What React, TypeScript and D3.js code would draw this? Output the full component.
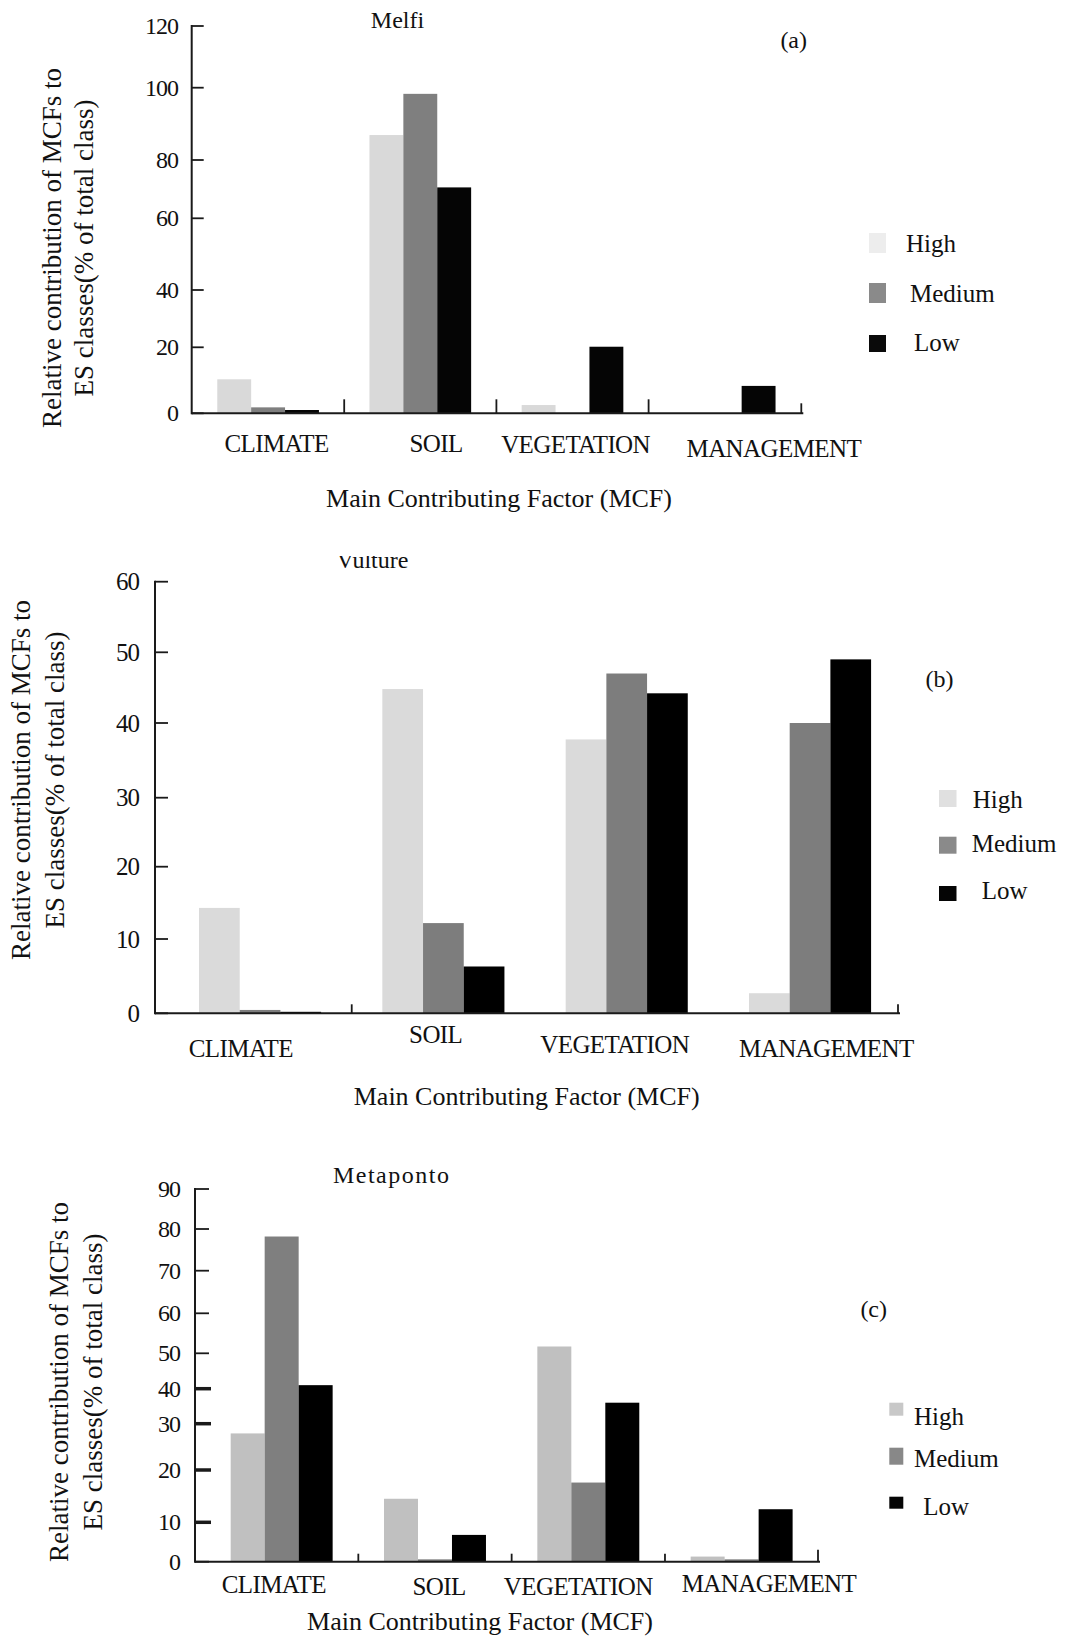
import React from "react";
import * as d3 from "d3";

// ---------- data ----------
const categories = ["CLIMATE", "SOIL", "VEGETATION", "MANAGEMENT"];
const classes = ["High", "Medium", "Low"];

const melfiHigh = [10.3, 86.9, 2.5, 0];
const melfiMedium = [1.8, 98.3, 0, 0];
const melfiLow = [1.0, 70.6, 20.2, 8.3];

const vultureHigh = [14.3, 44.8, 37.8, 2.7];
const vultureMedium = [0.45, 12.2, 47.0, 40.0];
const vultureLow = [0.2, 6.3, 44.2, 49.0];

const metapontoHigh = [27.9, 14.5, 51.7, 1.3];
const metapontoMedium = [78.2, 0.6, 17.6, 0.6];
const metapontoLow = [41.0, 6.8, 36.0, 12.5];

const melfiTicks = [0, 20, 40, 60, 80, 100, 120];
const vultureTicks = [0, 10, 20, 30, 40, 50, 60];
const metapontoTicks = [0, 10, 20, 30, 40, 50, 60, 70, 80, 90];

const yTitleLines = ["Relative contribution of MCFs to", "ES classes(% of total class)"];
const xTitle = "Main Contributing Factor (MCF)";

// ---------- layout ----------
const FONT = "'Liberation Serif', 'Times New Roman', serif";

const panels = [
  {
    id: "a",
    title: "Melfi",
    tag: "(a)",
    values: [melfiHigh, melfiMedium, melfiLow],
    ticks: melfiTicks,
    tickPix: [413.3, 347.3, 290, 218.3, 160, 87.7, 26],
    axisX: 191.7,
    band: [192, 800.8],
    axisEnd: 803.3,
    groupFrac: 0.668,
    dividers: [1, 2, 3],
    dividerLen: 14,
    endTickLen: 10,
    tickLen: 12,
    boldTicks: [] as number[],
    tickLabelX: 178,
    tickFont: 24,
    catDx: [8.4, 15.8, 3.1, 49.1],
    catBase: [451.7, 451.7, 453, 456.7],
    titlePos: [397.5, 28],
    titleSpacing: 0,
    titleClip: null as null | number,
    tagPos: [793.7, 48],
    legendX: 869,
    legendW: 17,
    legendRows: [[233, 20], [283, 20], [335, 17]],
    legendText: [[906, 252], [910, 302], [914, 351]],
    xTitlePos: [499, 507],
    yLabelX: [51.7, 84],
    yLabelY: 248,
    colors: ["#d9d9d9", "#7f7f7f", "#050505"],
    legendColors: ["#ededed", "#8a8a8a", "#0a0a0a"],
  },
  {
    id: "b",
    title: "Vulture",
    tag: "(b)",
    values: [vultureHigh, vultureMedium, vultureLow],
    ticks: vultureTicks,
    tickPix: [1013.3, 939, 866.7, 797.7, 723, 652.3, 581.7],
    axisX: 155,
    band: [168.4, 901.7],
    axisEnd: 900,
    groupFrac: 0.666,
    dividers: [1],
    dividerLen: 9,
    endTickLen: 9,
    tickLen: 13,
    boldTicks: [] as number[],
    tickLabelX: 139,
    tickFont: 25,
    catDx: [-19.2, -7.7, -12, 16.3],
    catBase: [1056.7, 1043, 1053, 1056.7],
    titlePos: [372.5, 568],
    titleSpacing: 0,
    titleClip: 556,
    tagPos: [939.5, 686.7],
    legendX: 939,
    legendW: 17.5,
    legendRows: [[790, 17], [836.7, 17], [886, 15]],
    legendText: [[972.7, 808.3], [971.7, 851.7], [981.7, 899.3]],
    xTitlePos: [526.7, 1105],
    yLabelX: [20.7, 55],
    yLabelY: 780,
    colors: ["#dadada", "#7d7d7d", "#000000"],
    legendColors: ["#e0e0e0", "#8a8a8a", "#050505"],
  },
  {
    id: "c",
    title: "Metaponto",
    tag: "(c)",
    values: [metapontoHigh, metapontoMedium, metapontoLow],
    ticks: metapontoTicks,
    tickPix: [1561.7, 1522.3, 1470, 1423.7, 1388.7, 1353.3, 1313.3, 1270.7, 1229, 1189],
    axisX: 195,
    band: [205, 818.3],
    axisEnd: 820,
    groupFrac: 0.665,
    dividers: [1, 2, 3],
    dividerLen: 8,
    endTickLen: 12,
    tickLen: 14,
    boldTicks: [10, 20, 30, 40],
    tickLabelX: 180,
    tickFont: 24,
    catDx: [-7.9, 4, -10, 27.3],
    catBase: [1593.3, 1595, 1595, 1591.7],
    titlePos: [391.7, 1183.3],
    titleSpacing: 1.5,
    titleClip: null as null | number,
    tagPos: [873.7, 1316.7],
    legendX: 889.3,
    legendW: 14,
    legendRows: [[1402.7, 13], [1447.7, 17], [1496.7, 12]],
    legendText: [[914, 1425], [914, 1466.7], [923.3, 1515]],
    xTitlePos: [480, 1630],
    yLabelX: [58.5, 93],
    yLabelY: 1382,
    colors: ["#c0c0c0", "#7f7f7f", "#000000"],
    legendColors: ["#c8c8c8", "#888888", "#050505"],
  },
];

type PanelCfg = (typeof panels)[number];

function Panel({ p }: { p: PanelCfg }) {
  const y = d3.scaleLinear().domain(p.ticks).range(p.tickPix);
  const x = d3.scaleBand<string>().domain(categories).range(p.band as [number, number]).paddingInner(0).paddingOuter(0);
  const bw = x.bandwidth();
  const groupW = bw * p.groupFrac;
  const xs = d3.scaleBand<string>().domain(classes).range([0, groupW]);
  const off = (bw - groupW) / 2;
  const y0 = y(0);
  const axisColor = "#1a1a1a";
  const textColor = "#111";

  return (
    <g>
      {p.titleClip !== null && (
        <defs>
          <clipPath id={`clip-${p.id}`}>
            <rect x={0} y={p.titleClip} width={1066} height={60} />
          </clipPath>
        </defs>
      )}
      {/* bars */}
      {classes.map((c, si) => (
        <g key={c}>
          {categories.map((cat, ci) => {
            const v = p.values[si][ci];
            if (!v) return null;
            const top = y(v);
            return (
              <rect
                key={cat}
                x={(x(cat) as number) + off + (xs(c) as number)}
                y={top}
                width={xs.bandwidth()}
                height={y0 - top}
                fill={p.colors[si]}
              />
            );
          })}
        </g>
      ))}
      {/* y axis */}
      <line x1={p.axisX} x2={p.axisX} y1={y(p.ticks[p.ticks.length - 1]) - 1} y2={y0 + 1} stroke={axisColor} strokeWidth={2} />
      {p.ticks.map((t) => {
        const bold = p.boldTicks.includes(t);
        return (
          <g key={t}>
            <line
              x1={p.axisX}
              x2={p.axisX + (bold ? p.tickLen + 2 : p.tickLen)}
              y1={y(t)}
              y2={y(t)}
              stroke={axisColor}
              strokeWidth={bold ? 3.5 : 1.8}
            />
            <text
              x={p.tickLabelX}
              y={y(t)}
              textAnchor="end"
              dominantBaseline="central"
              fontFamily={FONT}
              fontSize={p.tickFont}
              letterSpacing={-1}
              fill={textColor}
            >
              {t}
            </text>
          </g>
        );
      })}
      {/* x axis */}
      <line x1={p.axisX} x2={p.axisEnd} y1={y0} y2={y0} stroke={axisColor} strokeWidth={2} />
      {p.dividers.map((i) => {
        const xx = (x(categories[i]) as number);
        return <line key={i} x1={xx} x2={xx} y1={y0} y2={y0 - p.dividerLen} stroke={axisColor} strokeWidth={1.8} />;
      })}
      <line x1={p.axisEnd - 2} x2={p.axisEnd - 2} y1={y0} y2={y0 - p.endTickLen} stroke={axisColor} strokeWidth={1.8} />
      {categories.map((cat, ci) => (
        <text
          key={cat}
          x={(x(cat) as number) + bw / 2 + p.catDx[ci]}
          y={p.catBase[ci]}
          textAnchor="middle"
          fontFamily={FONT}
          fontSize={25}
          letterSpacing={-0.6}
          fill={textColor}
        >
          {cat}
        </text>
      ))}
      {/* titles */}
      <text
        x={p.titlePos[0]}
        y={p.titlePos[1]}
        textAnchor="middle"
        fontFamily={FONT}
        fontSize={24}
        letterSpacing={p.titleSpacing}
        fill={textColor}
        clipPath={p.titleClip !== null ? `url(#clip-${p.id})` : undefined}
      >
        {p.title}
      </text>
      <text x={p.tagPos[0]} y={p.tagPos[1]} textAnchor="middle" fontFamily={FONT} fontSize={24} fill={textColor}>
        {p.tag}
      </text>
      <text x={p.xTitlePos[0]} y={p.xTitlePos[1]} textAnchor="middle" fontFamily={FONT} fontSize={26} fill={textColor}>
        {xTitle}
      </text>
      {yTitleLines.map((line, li) => (
        <text
          key={li}
          transform={`translate(${p.yLabelX[li]},${p.yLabelY}) rotate(-90)`}
          textAnchor="middle"
          dominantBaseline="central"
          fontFamily={FONT}
          fontSize={27}
          fill={textColor}
        >
          {line}
        </text>
      ))}
      {/* legend */}
      {classes.map((c, si) => (
        <g key={c}>
          <rect
            x={p.legendX}
            y={p.legendRows[si][0]}
            width={p.legendW}
            height={p.legendRows[si][1]}
            fill={p.legendColors[si]}
          />
          <text
            x={p.legendText[si][0]}
            y={p.legendText[si][1]}
            fontFamily={FONT}
            fontSize={25}
            fill={textColor}
          >
            {c}
          </text>
        </g>
      ))}
    </g>
  );
}

export default function App() {
  return (
    <svg
      width={1066}
      height={1638}
      viewBox="0 0 1066 1638"
      style={{ position: "absolute", left: 0, top: 0, display: "block", background: "#fff" }}
    >
      <rect x={0} y={0} width={1066} height={1638} fill="#fff" />
      {panels.map((p) => (
        <Panel key={p.id} p={p} />
      ))}
    </svg>
  );
}
